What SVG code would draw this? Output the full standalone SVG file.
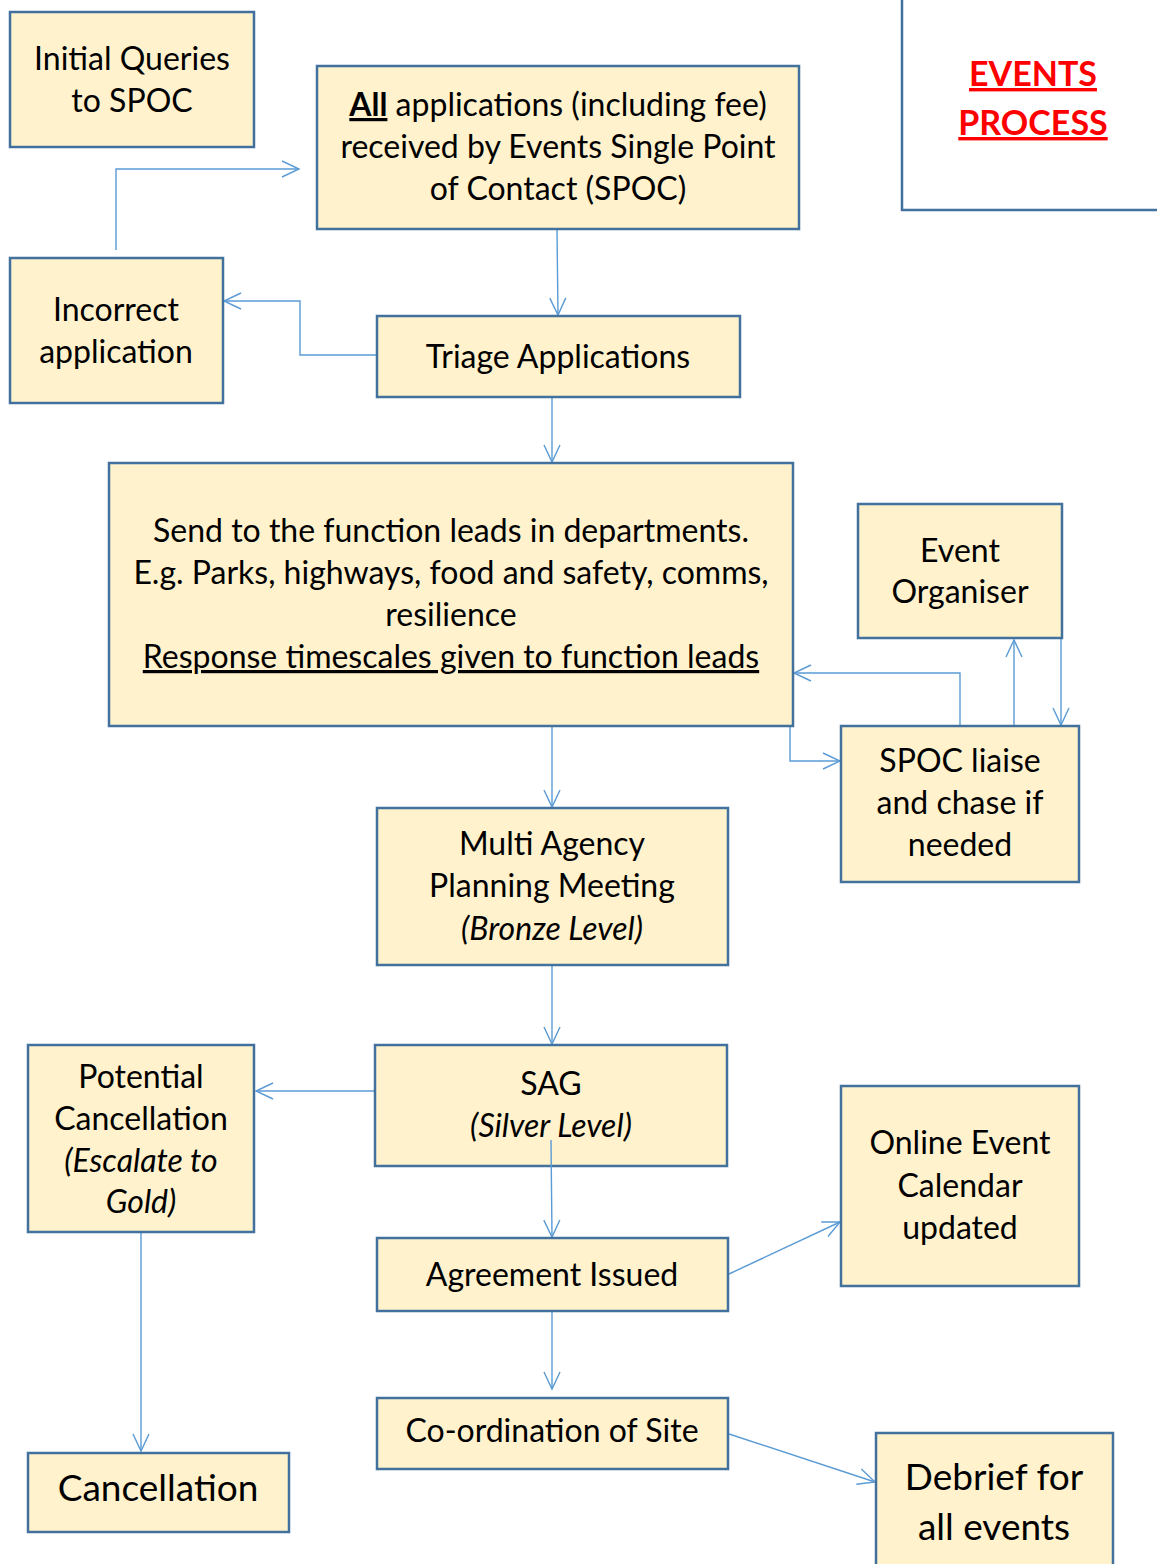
<svg xmlns="http://www.w3.org/2000/svg" width="1157" height="1564" viewBox="0 0 1157 1564">
<defs>
<style>
.n{fill:#FFF2CC;stroke:#41719C;stroke-width:2.5}
.t{font-family:Lato,"Liberation Sans",sans-serif;font-size:32px;fill:#000;text-anchor:middle}
.big{font-size:37px}
.i{font-style:italic}
.c{fill:none;stroke:#5B9BD5;stroke-width:1.4}
.title{font-family:Lato,"Liberation Sans",sans-serif;font-size:34px;font-weight:bold;fill:#FF0000;text-anchor:middle;text-decoration:underline}
</style>
<marker id="a" markerWidth="20" markerHeight="20" refX="18" refY="10" orient="auto" markerUnits="userSpaceOnUse" viewBox="0 0 20 20">
<path d="M1,2 L18,10 L1,18" fill="none" stroke="#5B9BD5" stroke-width="1.4"/>
</marker>
</defs>
<rect width="1157" height="1564" fill="#fff"/>

<g id="connectors">
<path class="c" d="M116,250 V169 H299" marker-end="url(#a)"/>
<path class="c" d="M557,229 L558,315" marker-end="url(#a)"/>
<path class="c" d="M377,355 H300 V301 H224" marker-end="url(#a)"/>
<path class="c" d="M552,397 V462" marker-end="url(#a)"/>
<path class="c" d="M960,726 V673 H794" marker-end="url(#a)"/>
<path class="c" d="M1014,726 V640" marker-end="url(#a)"/>
<path class="c" d="M1061,638 V725" marker-end="url(#a)"/>
<path class="c" d="M790,726 V761 H840" marker-end="url(#a)"/>
<path class="c" d="M552,726 V807" marker-end="url(#a)"/>
<path class="c" d="M552,965 V1044" marker-end="url(#a)"/>
<path class="c" d="M375,1091 H256" marker-end="url(#a)"/>
<path class="c" d="M141,1232 V1451" marker-end="url(#a)"/>
<path class="c" d="M729,1274 L840,1222" marker-end="url(#a)"/>
<path class="c" d="M552,1311 V1389" marker-end="url(#a)"/>
<path class="c" d="M729,1434 L875,1482" marker-end="url(#a)"/>
</g>

<g id="title">
<path d="M902,0 V210 H1157" fill="none" stroke="#41719C" stroke-width="2.5"/>
<text class="title" x="1033" y="86">EVENTS</text>
<text class="title" x="1033" y="135">PROCESS</text>
</g>

<g id="initial">
<rect class="n" x="10" y="12" width="244" height="135"/>
<text class="t" x="132" y="70">Initial Queries</text>
<text class="t" x="132" y="112">to SPOC</text>
</g>

<g id="received">
<rect class="n" x="317" y="66" width="482" height="163"/>
<text class="t" x="558" y="116"><tspan font-weight="bold" text-decoration="underline">All</tspan> applications (including fee)</text>
<text class="t" x="558" y="158">received by Events Single Point</text>
<text class="t" x="558" y="200">of Contact (SPOC)</text>
</g>

<g id="incorrect">
<rect class="n" x="10" y="258" width="213" height="145"/>
<text class="t" x="116" y="321">Incorrect</text>
<text class="t" x="116" y="363">application</text>
</g>

<g id="triage">
<rect class="n" x="377" y="316" width="363" height="81"/>
<text class="t" x="558" y="368">Triage Applications</text>
</g>

<g id="send">
<rect class="n" x="109" y="463" width="684" height="263"/>
<text class="t" x="451" y="542">Send to the function leads in departments.</text>
<text class="t" x="451" y="584">E.g. Parks, highways, food and safety, comms,</text>
<text class="t" x="451" y="626">resilience</text>
<text class="t" x="451" y="668" text-decoration="underline">Response timescales given to function leads</text>
</g>

<g id="organiser">
<rect class="n" x="858" y="504" width="204" height="134"/>
<text class="t" x="960" y="562">Event</text>
<text class="t" x="960" y="603">Organiser</text>
</g>

<g id="liaise">
<rect class="n" x="841" y="726" width="238" height="156"/>
<text class="t" x="960" y="772">SPOC liaise</text>
<text class="t" x="960" y="814">and chase if</text>
<text class="t" x="960" y="856">needed</text>
</g>

<g id="multi">
<rect class="n" x="377" y="808" width="351" height="157"/>
<text class="t" x="552" y="855">Multi Agency</text>
<text class="t" x="552" y="897">Planning Meeting</text>
<text class="t i" x="552" y="940">(Bronze Level)</text>
</g>

<g id="sag">
<rect class="n" x="375" y="1045" width="352" height="121"/>
<text class="t" x="551" y="1095">SAG</text>
<text class="t i" x="551" y="1137">(Silver Level)</text>
</g>
<path class="c" d="M551,1140 L552,1237" marker-end="url(#a)"/>

<g id="potential">
<rect class="n" x="28" y="1045" width="226" height="187"/>
<text class="t" x="141" y="1088">Potential</text>
<text class="t" x="141" y="1130">Cancellation</text>
<text class="t i" x="141" y="1172">(Escalate to</text>
<text class="t i" x="141" y="1213">Gold)</text>
</g>

<g id="online">
<rect class="n" x="841" y="1086" width="238" height="200"/>
<text class="t" x="960" y="1154">Online Event</text>
<text class="t" x="960" y="1197">Calendar</text>
<text class="t" x="960" y="1239">updated</text>
</g>

<g id="agreement">
<rect class="n" x="377" y="1238" width="351" height="73"/>
<text class="t" x="552" y="1286">Agreement Issued</text>
</g>

<g id="coordination">
<rect class="n" x="377" y="1398" width="351" height="71"/>
<text class="t" x="552" y="1442">Co-ordination of Site</text>
</g>

<g id="cancellation">
<rect class="n" x="28" y="1453" width="261" height="79"/>
<text class="t big" x="158" y="1501">Cancellation</text>
</g>

<g id="debrief">
<rect class="n" x="876" y="1433" width="237" height="140"/>
<text class="t big" x="994" y="1490">Debrief for</text>
<text class="t big" x="994" y="1540">all events</text>
</g>
</svg>
